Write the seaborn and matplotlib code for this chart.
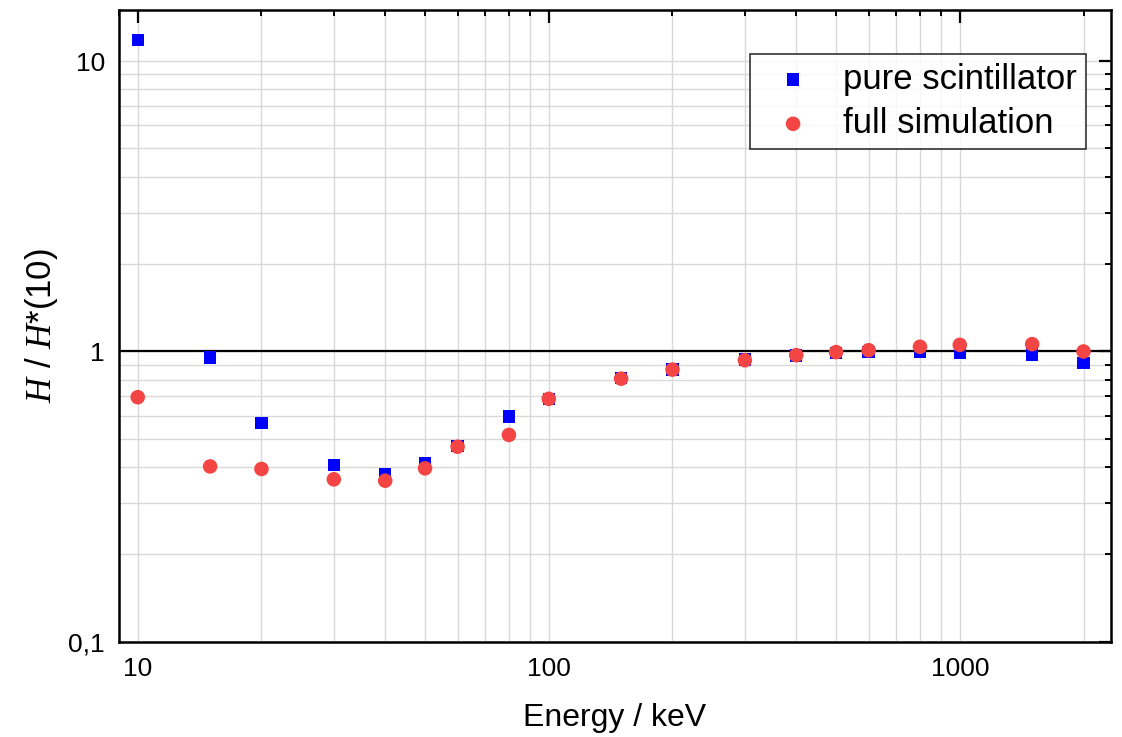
import numpy as np
import pandas as pd
import matplotlib
matplotlib.use("Agg")
import matplotlib.pyplot as plt
import seaborn as sns
from matplotlib.ticker import LogLocator, FixedLocator, FuncFormatter, NullFormatter

energy = [10, 15, 20, 30, 40, 50, 60, 80, 100, 150, 200, 300, 400, 500, 600, 800, 1000, 1500, 2000]
pure_scint = [11.8, 0.953, 0.568, 0.407, 0.377, 0.413, 0.472, 0.598, 0.687, 0.809, 0.867,
              0.938, 0.969, 0.987, 0.995, 0.995, 0.99, 0.977, 0.914]
full_sim = [0.696, 0.402, 0.394, 0.363, 0.359, 0.396, 0.470, 0.516, 0.687, 0.806, 0.866,
            0.933, 0.971, 0.995, 1.01, 1.038, 1.054, 1.06, 1.0]
labels = ["pure scintillator", "full simulation"]
x_ticks = [10, 100, 1000]
y_ticks = [0.1, 1, 10]
y_tick_labels = ["0,1", "1", "10"]

sns.set_theme(style="white", rc={"text.color": "black", "axes.labelcolor": "black",
                                 "xtick.color": "black", "ytick.color": "black"})
plt.rcParams["font.family"] = ["Liberation Sans", "DejaVu Sans"]
plt.rcParams["mathtext.fontset"] = "custom"
plt.rcParams["mathtext.it"] = "Liberation Serif:italic"
plt.rcParams["mathtext.rm"] = "Liberation Serif"

df = pd.DataFrame({"energy": energy, "pure": pure_scint, "full": full_sim})

fig = plt.figure(figsize=(11.22, 7.37), dpi=100)
ax = fig.add_axes([0.106, 0.129, 0.884, 0.8576])
ax.set_xscale("log")
ax.set_yscale("log")

ax.axhline(1.0, color="black", lw=1.6, zorder=2)

sns.scatterplot(data=df, x="energy", y="pure", marker="s", s=80, color="#0000ff",
                edgecolor="none", label=labels[0], ax=ax, zorder=3)
sns.scatterplot(data=df, x="energy", y="full", marker="o", s=110, color="#f44545",
                edgecolor="none", label=labels[1], ax=ax, zorder=4)

ax.set_xlim(9.0, 2330)
ax.set_ylim(0.1, 15)

ax.xaxis.set_major_locator(FixedLocator(x_ticks))
ax.xaxis.set_major_formatter(FuncFormatter(lambda v, p: f"{int(round(v))}"))
ax.xaxis.set_minor_locator(LogLocator(base=10, subs=np.arange(2, 10), numticks=20))
ax.xaxis.set_minor_formatter(NullFormatter())
ax.yaxis.set_major_locator(FixedLocator(y_ticks))
ax.set_yticklabels(y_tick_labels)
ax.yaxis.set_minor_locator(LogLocator(base=10, subs=np.arange(2, 10), numticks=20))
ax.yaxis.set_minor_formatter(NullFormatter())

ax.grid(True, which="both", color="#d9d9d9", lw=1.0, zorder=0)
ax.set_axisbelow(True)

ax.tick_params(which="both", direction="in", top=True, right=True, color="black",
               labelcolor="black", labelsize=19, pad=10)
ax.tick_params(which="major", length=9, width=1.6)
ax.tick_params(which="minor", length=4.5, width=1.4)
ax.tick_params(axis="x", which="major", pad=11)

for sp in ax.spines.values():
    sp.set_color("black")
    sp.set_linewidth(1.8)

ax.set_xlabel("Energy / keV", fontsize=23, labelpad=16, color="black")
ax.set_ylabel(r"$H$ / $H$*(10)", fontsize=25, labelpad=6, color="black")

leg = ax.legend(loc="upper right", bbox_to_anchor=(0.975, 0.93), fontsize=25,
                frameon=True, fancybox=False, edgecolor="black", markerscale=1.0,
                handlelength=2.0, handletextpad=0.45, borderpad=0.25,
                labelspacing=0.32, borderaxespad=0)
leg.get_frame().set_linewidth(1.2)
for t in leg.get_texts():
    t.set_color("black")

fig.savefig("out.png", dpi=100)
